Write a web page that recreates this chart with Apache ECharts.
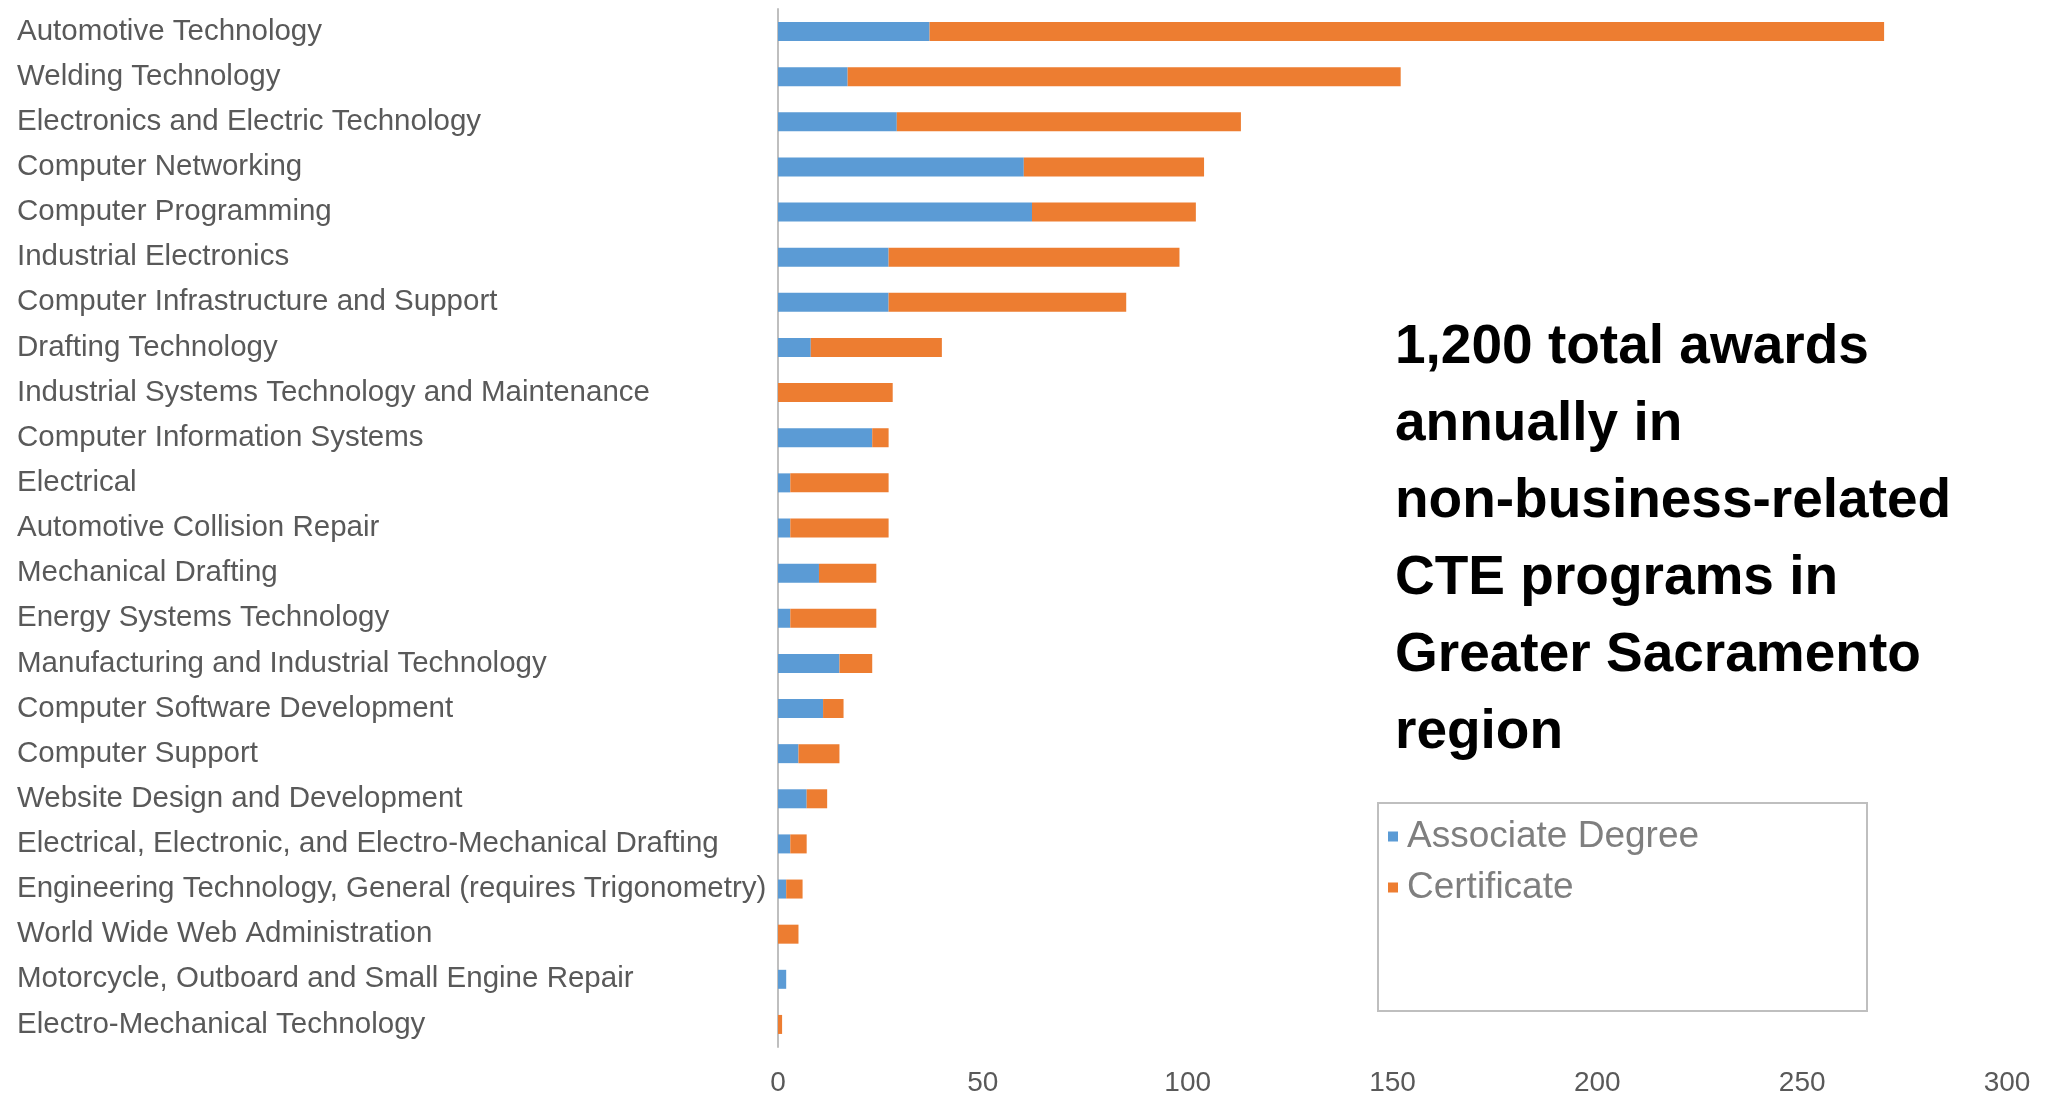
<!DOCTYPE html>
<html>
<head>
<meta charset="utf-8">
<script src="https://cdn.jsdelivr.net/npm/echarts@6/dist/echarts.min.js"></script>
<style>
html,body{margin:0;padding:0;background:#fff;}
#chart{width:2057px;height:1097px;}
</style>
</head>
<body>
<div id="chart"></div>
<script>
const categories = [
  "Automotive Technology",
  "Welding Technology",
  "Electronics and Electric Technology",
  "Computer Networking",
  "Computer Programming",
  "Industrial Electronics",
  "Computer Infrastructure and Support",
  "Drafting Technology",
  "Industrial Systems Technology and Maintenance",
  "Computer Information Systems",
  "Electrical",
  "Automotive Collision Repair",
  "Mechanical Drafting",
  "Energy Systems Technology",
  "Manufacturing and Industrial Technology",
  "Computer Software Development",
  "Computer Support",
  "Website Design and Development",
  "Electrical, Electronic, and Electro-Mechanical Drafting",
  "Engineering Technology, General (requires Trigonometry)",
  "World Wide Web Administration",
  "Motorcycle, Outboard and Small Engine Repair",
  "Electro-Mechanical Technology"
];
const associateDegree = [37, 17, 29, 60, 62, 27, 27, 8, 0, 23, 3, 3, 10, 3, 15, 11, 5, 7, 3, 2, 0, 2, 0];
const certificate     = [233, 135, 84, 44, 40, 71, 58, 32, 28, 4, 24, 24, 14, 21, 8, 5, 10, 5, 4, 4, 5, 0, 1];
const xTicks = [0, 50, 100, 150, 200, 250, 300];
const annotationLines = [
  "1,200 total awards",
  "annually in",
  "non-business-related",
  "CTE programs in",
  "Greater Sacramento",
  "region"
];

const chart = echarts.init(document.getElementById('chart'));
const labelFont = 'Liberation Sans, Arial, sans-serif';
chart.setOption({
  backgroundColor: '#ffffff',
  animation: false,
  grid: { left: 778, right: 50, top: 9, bottom: 48, containLabel: false },
  xAxis: {
    type: 'value',
    min: xTicks[0],
    max: xTicks[xTicks.length - 1],
    interval: 50,
    axisLine: { show: false },
    axisTick: { show: false },
    splitLine: { show: false },
    axisLabel: { color: '#595959', fontSize: 28, fontFamily: labelFont, margin: 22 }
  },
  yAxis: {
    type: 'category',
    data: categories,
    inverse: true,
    axisLine: { show: true, lineStyle: { color: '#bfbfbf', width: 2 } },
    axisTick: { show: false },
    axisLabel: { color: '#595959', fontSize: 29.5, fontFamily: labelFont, align: 'left', margin: 761 }
  },
  legend: {
    orient: 'vertical',
    left: 1383,
    top: 813,
    itemWidth: 10,
    itemHeight: 10,
    itemGap: 14,
    icon: 'rect',
    textStyle: { color: '#7f7f7f', fontSize: 37, fontFamily: labelFont, padding: [0, 0, 0, 4] },
    data: ['Associate Degree', 'Certificate']
  },
  graphic: [
    {
      type: 'rect',
      shape: { x: 1378, y: 803, width: 489, height: 208 },
      style: { fill: 'none', stroke: '#bfbfbf', lineWidth: 2 },
      silent: true
    },
    {
      type: 'text',
      left: 1395,
      top: 309,
      style: {
        text: annotationLines.join('\n'),
        font: 'bold 55px Liberation Sans, Arial, sans-serif',
        lineHeight: 77,
        fill: '#000000'
      }
    }
  ],
  series: [
    {
      name: 'Associate Degree',
      type: 'bar',
      stack: 'total',
      barWidth: 19,
      itemStyle: { color: '#5b9bd5' },
      data: associateDegree
    },
    {
      name: 'Certificate',
      type: 'bar',
      stack: 'total',
      barWidth: 19,
      itemStyle: { color: '#ed7d31' },
      data: certificate
    }
  ]
});
</script>
</body>
</html>
